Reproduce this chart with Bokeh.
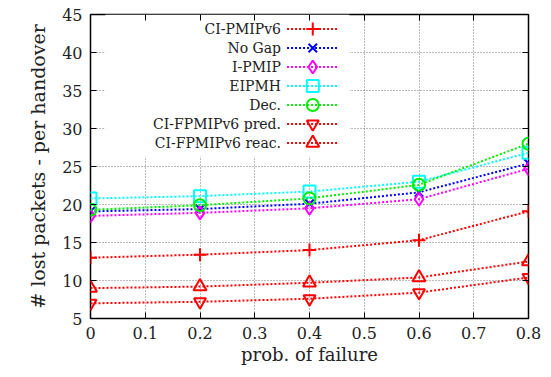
from bokeh.plotting import figure
from bokeh.embed import file_html
from bokeh.resources import INLINE
from bokeh.models import FixedTicker, LinearAxis, BoxAnnotation, Range1d, CustomJSTickFormatter
from bokeh.core.properties import value

# ---- data ----
prob = [0.0, 0.2, 0.4, 0.6, 0.8]
ci_pmipv6 = [13.0, 13.4, 14.0, 15.3, 19.1]
no_gap = [19.1, 19.4, 20.1, 21.6, 25.4]
i_pmip = [18.5, 18.9, 19.5, 20.7, 24.7]
eipmh = [20.8, 21.1, 21.7, 23.0, 26.8]
dec = [19.3, 19.9, 20.8, 22.6, 28.0]
cf_pred = [7.0, 7.2, 7.6, 8.4, 10.4]
cf_reac = [9.0, 9.2, 9.7, 10.4, 12.5]

series_names = ["CI-PMIPv6", "No Gap", "I-PMIP", "EIPMH", "Dec.",
                "CI-FPMIPv6 pred.", "CI-FPMIPv6 reac."]
series_vals = [ci_pmipv6, no_gap, i_pmip, eipmh, dec, cf_pred, cf_reac]
colors = ["#ff0000", "#0000ff", "#ff00ff", "#00ffff", "#00ee00", "#ff0000", "#ff0000"]
markers = ["cross", "x", "diamond", "square", "circle", "inverted_triangle", "triangle"]
msizes = [13, 12, 13, 12, 12, 12, 13]

x_ticks = [0.0, 0.1, 0.2, 0.3, 0.4, 0.5, 0.6, 0.7, 0.8]
y_ticks = [5, 10, 15, 20, 25, 30, 35, 40, 45]

FONT = "DejaVu Serif"

p = figure(width=551, height=377, output_backend="svg", toolbar_location=None,
           x_range=Range1d(0, 0.8), y_range=Range1d(5, 45),
           min_border_left=90, min_border_right=23, min_border_top=14,
           min_border_bottom=59)
p.background_fill_color = "white"
p.border_fill_color = "white"
p.outline_line_color = "black"
p.outline_line_width = 1.5

for ax in (p.xaxis[0], p.yaxis[0]):
    ax.major_tick_in = 6
    ax.major_tick_out = 0
    ax.minor_tick_line_color = None
    ax.axis_line_color = None
    ax.major_tick_line_color = "black"
    ax.major_label_text_font = FONT
    ax.major_label_text_font_size = "16px"
    ax.major_label_text_color = "#222222"
    ax.axis_label_text_font = FONT
    ax.axis_label_text_font_size = "18px"
    ax.axis_label_text_font_style = "normal"
    ax.axis_label_text_color = "#222222"

p.yaxis.axis_label_text_font_size = "19px"
p.xaxis.ticker = FixedTicker(ticks=x_ticks)
p.yaxis.ticker = FixedTicker(ticks=y_ticks)
p.xaxis.major_label_overrides = {0: "0"}
p.xaxis.axis_label = "prob. of failure"
p.yaxis.axis_label = "# lost packets - per handover"
p.xaxis.major_label_standoff = 8
p.yaxis.major_label_standoff = 8
p.xaxis.axis_label_standoff = 2
p.yaxis.axis_label_standoff = 10

# mirrored ticks (no labels)
blank = CustomJSTickFormatter(code="return ''")
top = LinearAxis(ticker=FixedTicker(ticks=x_ticks), formatter=blank,
                 major_tick_in=6, major_tick_out=0, minor_tick_line_color=None,
                 axis_line_color=None, major_label_standoff=0)
right = LinearAxis(ticker=FixedTicker(ticks=y_ticks), formatter=blank,
                   major_tick_in=6, major_tick_out=0, minor_tick_line_color=None,
                   axis_line_color=None, major_label_standoff=0)
p.add_layout(top, "above")
p.add_layout(right, "right")

for g in (p.xgrid[0], p.ygrid[0]):
    g.grid_line_color = "#777777"
    g.grid_line_dash = "1 2"
    g.grid_line_width = 1
    g.level = "image"
p.xgrid.ticker = FixedTicker(ticks=x_ticks)
p.ygrid.ticker = FixedTicker(ticks=y_ticks)

# legend background hides the grid (as in gnuplot)
p.add_layout(BoxAnnotation(left=0.027, right=0.473, bottom=26.3, top=45,
                           fill_color="white", fill_alpha=1.0, line_color=None,
                           level="underlay"))

for name, vals, c, m, s in zip(series_names, series_vals, colors, markers, msizes):
    p.line(prob, vals, line_color=c, line_width=2, line_dash="2 2")
    p.scatter(prob, vals, marker=m, size=s, line_color=c, fill_color=None, line_width=2)

# legend (gnuplot style: text on the left, sample on the right)
leg_y = [43.1 - 2.5 * i for i in range(len(series_names))]
for name, yy, c, m, s in zip(series_names, leg_y, colors, markers, msizes):
    p.segment(x0=[0.359], y0=[yy], x1=[0.452], y1=[yy], line_color=c, line_width=2,
              line_dash="2 2")
    p.scatter([0.406], [yy], marker=m, size=s, line_color=c, fill_color=None, line_width=2)
    p.text([0.348], [yy], text=[name], text_align="right", text_baseline="middle",
           text_font=value(FONT), text_font_size="14px", text_color="#222222")

open("out.html", "w").write(file_html(p, INLINE))
